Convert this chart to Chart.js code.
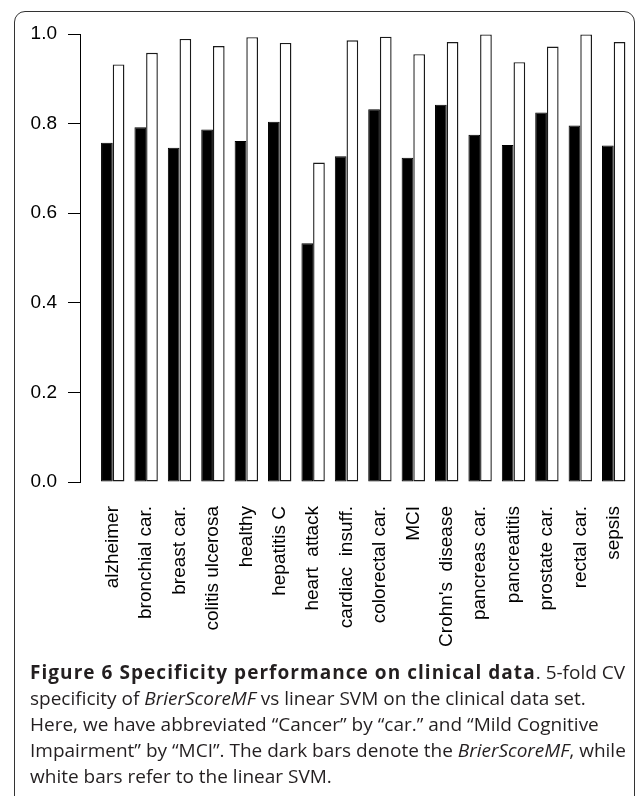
<!DOCTYPE html>
<html>
<head>
<meta charset="utf-8">
<script src="https://cdn.jsdelivr.net/npm/chart.js@4.4.1/dist/chart.umd.min.js"></script>
<style>
  html, body { margin: 0; padding: 0; background: #fff; }
  body { width: 635px; height: 796px; position: relative; overflow: hidden; }
  #frame {
    position: absolute; left: 14px; top: 11px; width: 621px; height: 900px;
    border: 1.3px solid #333; border-radius: 11px; box-sizing: border-box;
  }
  #wrap { position: absolute; left: 0; top: 0; width: 635px; height: 660px; }
  #caption {
    position: absolute; left: 30px; top: 659px; white-space: nowrap;
    font-family: "Open Sans", sans-serif; font-size: 19px; line-height: 26px;
    color: #231f20;
  }
  #caption b { font-weight: 700; letter-spacing: 1.05px; }
</style>
</head>
<body>
<div id="frame"></div>
<div id="wrap"><canvas id="chart"></canvas></div>
<div id="caption">
  <b>Figure 6 Specificity performance on clinical data</b>. 5-fold CV<br>
  specificity of <i>BrierScoreMF</i> vs linear SVM on the clinical data set.<br>
  Here, we have abbreviated “Cancer” by “car.” and “Mild Cognitive<br>
  Impairment” by “MCI”. The dark bars denote the <i>BrierScoreMF</i>, while<br>
  white bars refer to the linear SVM.
</div>
<script>
// Clinical data sets (x axis categories)
const categories = [
  'alzheimer', 'bronchial car.', 'breast car.', 'colitis ulcerosa', 'healthy',
  'hepatitis C', 'heart  attack', 'cardiac  insuff.', 'colorectal car.', 'MCI',
  "Crohn's  disease", 'pancreas car.', 'pancreatitis', 'prostate car.',
  'rectal car.', 'sepsis'
];

// 5-fold CV specificity, BrierScoreMF (dark bars)
const brierScoreMF = [
  0.757, 0.792, 0.746, 0.787, 0.761, 0.804, 0.533, 0.727,
  0.832, 0.724, 0.842, 0.775, 0.752, 0.825, 0.796, 0.751
];

// 5-fold CV specificity, linear SVM (white bars)
const linearSVM = [
  0.932, 0.958, 0.989, 0.973, 0.993, 0.980, 0.713, 0.986,
  0.994, 0.955, 0.982, 0.999, 0.937, 0.972, 0.999, 0.982
];

// Y axis tick values
const yTicks = [0.0, 0.2, 0.4, 0.6, 0.8, 1.0];

const AXIS_FONT = { family: "'Liberation Sans', Arial, sans-serif", size: 19 };

const toPoints = arr => arr.map((v, i) => ({ x: i, y: v }));

new Chart(document.getElementById('chart'), {
  type: 'bar',
  data: {
    datasets: [
      {
        label: 'BrierScoreMF',
        data: toPoints(brierScoreMF),
        backgroundColor: '#000',
        borderColor: '#000',
        borderWidth: 1,
        borderSkipped: false
      },
      {
        label: 'linear SVM',
        data: toPoints(linearSVM),
        backgroundColor: '#fff',
        borderColor: '#1a1a1a',
        borderWidth: 1.4,
        borderSkipped: false
      }
    ]
  },
  options: {
    responsive: true,
    maintainAspectRatio: false,
    animation: false,
    events: [],
    layout: { padding: { top: 34, right: 4.6, bottom: 0, left: 0 } },
    plugins: { legend: { display: false }, tooltip: { enabled: false } },
    datasets: { bar: { categoryPercentage: 0.7, barPercentage: 1.0 } },
    scales: {
      x: {
        type: 'linear',
        offset: false,
        min: -0.98,
        max: 15.5,
        grid: { display: false, offset: false },
        border: { display: false },
        afterBuildTicks: scale => {
          scale.ticks = categories.map((_, i) => ({ value: i }));
        },
        afterFit: scale => {
          // vertical labels sit well inside the plot; no side padding needed
          scale.height = 178;
          scale.paddingLeft = 0;
          scale.paddingRight = 0;
        },
        ticks: {
          autoSkip: false,
          minRotation: 90,
          maxRotation: 90,
          padding: 16,
          color: '#000',
          font: AXIS_FONT,
          callback: v => categories[v]
        }
      },
      y: {
        min: 0,
        max: 1,
        afterBuildTicks: scale => {
          scale.ticks = yTicks.map(v => ({ value: v }));
        },
        afterFit: scale => { scale.width = 80; },
        grid: {
          drawOnChartArea: false,
          drawTicks: true,
          tickLength: 12,
          color: '#000',
          lineWidth: 1
        },
        border: { display: true, color: '#000', width: 1 },
        ticks: {
          padding: 11,
          color: '#000',
          font: AXIS_FONT,
          callback: v => Number(v).toFixed(1)
        }
      }
    }
  }
});
</script>
</body>
</html>
